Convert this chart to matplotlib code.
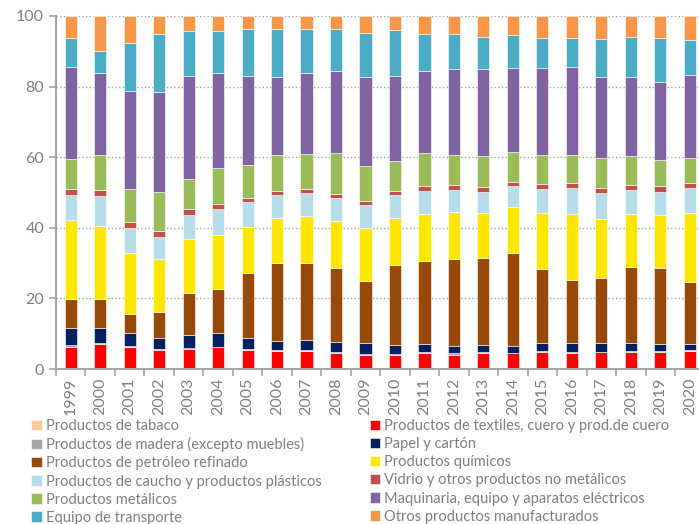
import matplotlib.pyplot as plt
import numpy as np

plt.rcParams['font.family'] = ['Lato', 'DejaVu Sans']

years = [str(y) for y in range(1999, 2021)]

# shares (%) per sector, bottom to top of each stacked bar
tabaco = [0.1] * 22
textiles = [6.2, 6.9, 6.0, 5.2, 5.5, 6.0, 5.3, 4.9, 5.1, 4.5, 4.0,
            4.0, 4.3, 4.0, 4.3, 4.3, 4.8, 4.3, 4.6, 4.6, 4.6, 4.9]
madera = [0.5, 0.3, 0.4, 0.3, 0.3, 0.2, 0.3, 0.3, 0.3, 0.3, 0.2,
          0.1, 0.3, 0.3, 0.3, 0.2, 0.3, 0.4, 0.2, 0.3, 0.4, 0.3]
papel = [4.7, 4.2, 3.6, 3.3, 3.6, 3.8, 3.0, 2.7, 2.8, 2.7, 3.0,
         2.7, 2.3, 2.2, 2.0, 1.9, 2.3, 2.5, 2.4, 2.3, 1.9, 1.7]
petroleo = [8.2, 8.2, 5.6, 7.3, 11.9, 12.5, 18.4, 21.9, 21.6, 21.1, 17.7,
            22.7, 23.7, 24.5, 24.8, 26.3, 20.7, 17.9, 18.6, 21.7, 21.7, 17.7]
quimicos = [22.5, 20.9, 17.1, 14.9, 15.3, 15.4, 13.2, 12.8, 13.3, 13.2, 14.8,
            13.3, 13.1, 13.3, 12.8, 13.0, 16.0, 18.6, 16.6, 14.8, 14.9, 19.6]
caucho = [7.1, 8.5, 7.1, 6.4, 6.9, 7.3, 6.9, 6.6, 6.6, 6.4, 6.7,
          6.3, 6.7, 6.3, 5.9, 6.1, 6.9, 7.6, 7.3, 6.9, 6.6, 7.1]
vidrio = [1.7, 1.7, 1.7, 1.5, 1.6, 1.5, 1.2, 1.2, 1.3, 1.4, 1.2,
          1.2, 1.2, 1.3, 1.3, 1.2, 1.2, 1.3, 1.4, 1.4, 1.5, 1.3]
metalicos = [8.5, 9.8, 9.3, 11.0, 8.6, 10.0, 9.5, 10.1, 9.8, 11.5, 9.8,
             8.4, 9.5, 8.5, 8.8, 8.5, 8.3, 7.9, 8.5, 8.3, 7.5, 7.2]
maquinaria = [26.1, 23.2, 27.9, 28.6, 29.2, 27.0, 25.0, 22.2, 22.9, 23.1, 25.3,
              24.3, 23.1, 24.4, 24.8, 23.7, 24.8, 25.0, 23.1, 22.4, 22.2, 23.5]
transporte = [8.1, 6.3, 13.6, 16.2, 12.8, 12.0, 13.3, 13.6, 12.6, 12.1, 12.3,
              12.8, 10.7, 9.9, 9.0, 9.2, 8.5, 8.3, 10.7, 11.3, 12.3, 9.7]
otros = [6.3, 9.9, 7.6, 5.2, 4.2, 4.2, 3.8, 3.6, 3.6, 3.6, 4.9,
         4.1, 5.0, 5.2, 5.9, 5.5, 6.1, 6.1, 6.5, 5.9, 6.3, 6.9]

labels = ['Productos de tabaco', 'Productos de textiles, cuero y prod.de cuero',
          'Productos de madera (excepto muebles)', 'Papel y cartón',
          'Productos de petróleo refinado', 'Productos químicos',
          'Productos de caucho y productos plásticos', 'Vidrio y otros productos no metálicos',
          'Productos metálicos', 'Maquinaria, equipo y aparatos eléctricos',
          'Equipo de transporte', 'Otros productos manufacturados']
series = [tabaco, textiles, madera, papel, petroleo, quimicos,
          caucho, vidrio, metalicos, maquinaria, transporte, otros]
colors = ['#FFC896', '#FF0000', '#A6A6A6', '#002060', '#984807', '#FFE600',
          '#B7DEE8', '#C0504D', '#9BBB59', '#8064A2', '#4BACC6', '#F79646']

grey = '#7F7F7F'
fig = plt.figure(figsize=(6.99, 5.24), dpi=100)
ax = fig.add_axes([0.080, 0.2958, 0.928, 0.6737])

x = np.arange(len(years))
bottom = np.zeros(len(years))
handles = []
for vals, lab, col in zip(series, labels, colors):
    vals = np.array(vals)
    b = ax.bar(x, vals, 0.41, bottom=bottom, color=col, label=lab,
               edgecolor='white', linewidth=0.4)
    bottom += vals
    handles.append(b)

ax.set_xlim(-0.5, len(years) - 0.5)
ax.set_ylim(0, 100)
ax.set_yticks(range(0, 101, 20))
ax.set_xticks(x)
ax.set_xticklabels(years, rotation=90, color=grey, fontsize=11.5)
ax.set_xticks(np.arange(-0.5, len(years)), minor=True)
ax.tick_params(axis='x', which='major', length=0, pad=6)
ax.tick_params(axis='x', which='minor', length=5, color='#A6A6A6', width=1.2)
ax.tick_params(axis='y', labelsize=11.5, labelcolor=grey, length=5,
               color='#A6A6A6', width=1.2)
ax.yaxis.grid(True, linestyle=':', color='#A6A6A6', linewidth=1.0)
ax.set_axisbelow(True)
for s in ['top', 'right']:
    ax.spines[s].set_visible(False)
for s in ['left', 'bottom']:
    ax.spines[s].set_color('#A6A6A6')
    ax.spines[s].set_linewidth(1.5)

# legend reads row by row in two columns
order = [0, 2, 4, 6, 8, 10, 1, 3, 5, 7, 9, 11]
leg = fig.legend([handles[i] for i in order], [labels[i] for i in order],
                 ncol=2, loc='upper left', bbox_to_anchor=(0.045, 0.200),
                 frameon=False, fontsize=10.5, labelcolor=grey,
                 handlelength=0.7, handleheight=0.7, handletextpad=0.3,
                 columnspacing=3.3, labelspacing=0.28, borderpad=0, borderaxespad=0)

fig.savefig('out.png', dpi=100)
